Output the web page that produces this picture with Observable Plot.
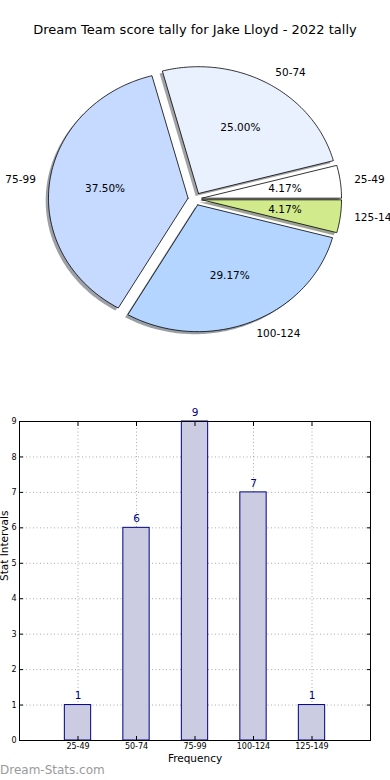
<!DOCTYPE html>
<html><head><meta charset="utf-8">
<script src="https://cdn.jsdelivr.net/npm/d3@7"></script>
<script src="https://cdn.jsdelivr.net/npm/@observablehq/plot@0.6"></script>
<style>
body{margin:0;background:#fff;font-family:"DejaVu Sans",sans-serif;}
#wrap{position:relative;width:390px;height:780px;overflow:hidden;background:#fff;}
#title{position:absolute;top:21px;left:0;width:390px;text-align:center;font-size:13px;color:#000;line-height:18px;}
#pie{position:absolute;top:0;left:0;}
#bar{position:absolute;top:390px;left:0;}
#wm{position:absolute;left:0;top:762px;font-size:12px;color:#9a9a9a;line-height:16px;}
svg{font-family:"DejaVu Sans",sans-serif;overflow:visible;}
</style></head><body>
<div id="wrap">
  <div id="pie"></div>
  <div id="title">Dream Team score tally for Jake Lloyd - 2022 tally</div>
  <div id="bar"></div>
  <div id="wm">Dream-Stats.com</div>
</div>
<script>
// ---- data ----
const categories = ["25-49", "50-74", "75-99", "100-124", "125-149"];
const counts = [1, 6, 9, 7, 1];
const sliceColors = ["#ffffff", "#eaf1fe", "#c6d9ff", "#b3d5ff", "#d0ea8c"];
const yTicks = [0, 1, 2, 3, 4, 5, 6, 7, 8, 9];

// ---- pie layout (matplotlib-like, elliptical axes) ----
const W = 390, H = 390;
const cx = 194.5, cy = 198.5, Rx = 139.6, Ry = 126.8;
const explode = 0.05, shadowOff = -0.02;
const total = d3.sum(counts);

let acc = 0;
const slices = counts.map((v, i) => {
  const a0 = acc / total * 2 * Math.PI;
  acc += v;
  const a1 = acc / total * 2 * Math.PI;
  const mid = (a0 + a1) / 2;
  const ox = explode * Math.cos(mid), oy = explode * Math.sin(mid);
  const pts = [[ox, oy]];
  const n = Math.max(2, Math.ceil((a1 - a0) / (Math.PI / 180)));
  for (let k = 0; k <= n; k++) {
    const t = a0 + (a1 - a0) * k / n;
    pts.push([ox + Math.cos(t), oy + Math.sin(t)]);
  }
  pts.push([ox, oy]);
  const c = d3.rgb(sliceColors[i]);
  return {
    i, v, mid, ox, oy, pts,
    color: sliceColors[i],
    shadowColor: d3.rgb(c.r * 0.3, c.g * 0.3, c.b * 0.3).formatHex(),
    label: categories[i],
    pct: (v / total * 100).toFixed(2) + "%"
  };
});

const pieMarks = [];
for (const s of slices) {
  pieMarks.push(Plot.line(s.pts, {
    x: d => d[0] + shadowOff, y: d => d[1] + shadowOff,
    fill: s.shadowColor, fillOpacity: 0.5, stroke: "none", curve: "linear"
  }));
}
for (const s of slices) {
  pieMarks.push(Plot.line(s.pts, {
    x: d => d[0], y: d => d[1],
    fill: s.color, stroke: "#000", strokeWidth: 0.8, curve: "linear"
  }));
}
pieMarks.push(Plot.text(slices, {
  x: s => s.ox + 0.6 * Math.cos(s.mid), y: s => s.oy + 0.6 * Math.sin(s.mid),
  text: "pct", fontSize: 10.5, fill: "#000"
}));
pieMarks.push(Plot.text(slices.filter(s => Math.cos(s.mid) > 0), {
  x: s => s.ox + 1.1 * Math.cos(s.mid), y: s => s.oy + 1.1 * Math.sin(s.mid),
  text: "label", fontSize: 10.5, textAnchor: "start", fill: "#000"
}));
pieMarks.push(Plot.text(slices.filter(s => Math.cos(s.mid) <= 0), {
  x: s => s.ox + 1.1 * Math.cos(s.mid), y: s => s.oy + 1.1 * Math.sin(s.mid),
  text: "label", fontSize: 10.5, textAnchor: "end", fill: "#000"
}));

const pie = Plot.plot({
  width: W, height: H, margin: 0,
  x: {type: "linear", domain: [-cx / Rx, (W - cx) / Rx], range: [0, W], axis: null},
  y: {type: "linear", domain: [-(H - cy) / Ry, cy / Ry], range: [H, 0], axis: null},
  marks: pieMarks
});
document.getElementById("pie").appendChild(pie);

// ---- bar chart ----
const bars = categories.map((c, i) => ({cat: c, pos: i + 1, count: counts[i]}));
const xTicks = bars.map(d => d.pos);
const bar = Plot.plot({
  width: 390, height: 390,
  marginTop: 31, marginBottom: 40, marginLeft: 19, marginRight: 20,
  x: {type: "linear", domain: [0, 6]},
  y: {type: "linear", domain: [0, 9]},
  marks: [
    Plot.gridX(xTicks, {stroke: "#aaaaaa", strokeOpacity: 1, strokeDasharray: "1,2.5"}),
    Plot.gridY(yTicks, {stroke: "#aaaaaa", strokeOpacity: 1, strokeDasharray: "1,2.5"}),
    Plot.rectY(bars, {x1: d => d.pos - 0.225, x2: d => d.pos + 0.225, y1: 0, y2: "count",
      fill: "#cbcbe2", stroke: "#000080", strokeWidth: 1}),
    Plot.text(bars, {x: "pos", y: "count", text: d => String(d.count), dy: -9,
      fill: "#000080", fontSize: 10.5}),
    Plot.frame({stroke: "#000", strokeWidth: 1}),
    Plot.axisX(xTicks, {anchor: "bottom", tickFormat: d => categories[d - 1], tickSize: -4,
      tickPadding: 7, fontSize: 8, label: null, stroke: "#000"}),
    Plot.axisX(xTicks, {anchor: "top", tickFormat: () => "", tickSize: -4, label: null}),
    Plot.axisY(yTicks, {anchor: "left", tickSize: -4, tickPadding: 7, fontSize: 8, label: null}),
    Plot.axisY(yTicks, {anchor: "right", tickFormat: () => "", tickSize: -4, label: null}),
    Plot.text(["Frequency"], {frameAnchor: "bottom", dy: 21, fontSize: 10.5, fill: "#000"}),
    Plot.text(["Stat Intervals"], {frameAnchor: "left", dx: -15, rotate: -90, fontSize: 10.5, fill: "#000"})
  ]
});
document.getElementById("bar").appendChild(bar);
</script>
</body></html>
